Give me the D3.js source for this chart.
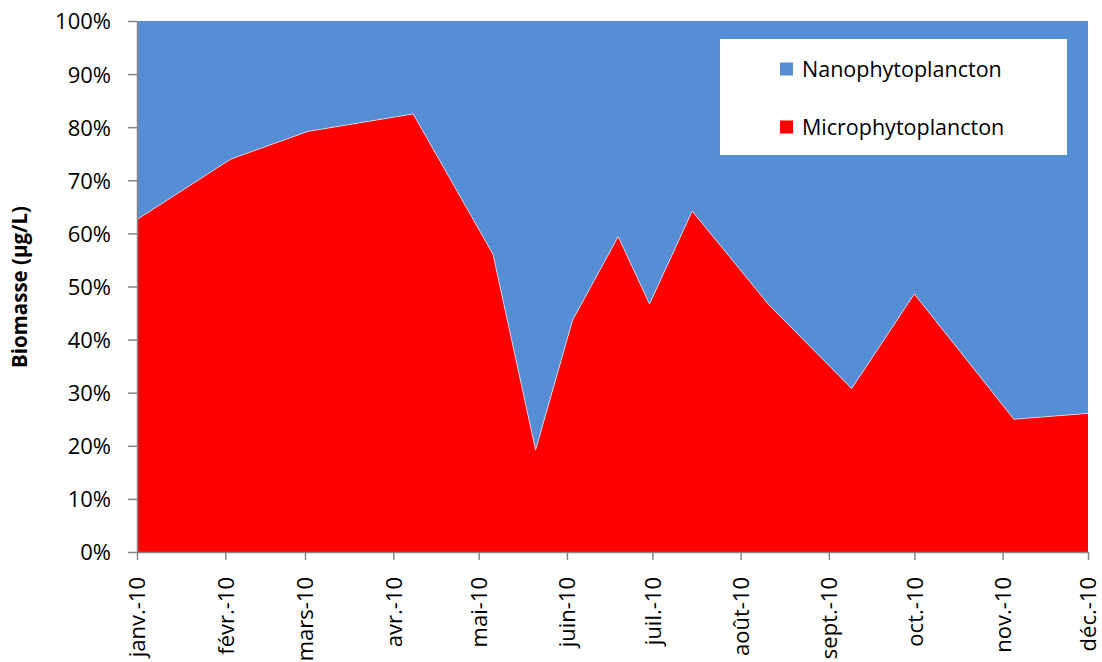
<!DOCTYPE html>
<html>
<head>
<meta charset="utf-8">
<script src="https://cdn.jsdelivr.net/npm/d3@7"></script>
<style>
  body { margin: 0; background: #fff; }
  svg { display: block; }
  text { font-family: "Open Sans", sans-serif; fill: #000; }
</style>
</head>
<body>
<svg id="chart" width="1102" height="662"></svg>
<script>
const dates = ["2010-01-01","2010-02-03","2010-03-02","2010-04-08","2010-05-06","2010-05-21","2010-06-03","2010-06-19","2010-06-30","2010-07-15","2010-08-11","2010-09-09","2010-10-01","2010-11-05","2010-12-01"];
const micro = [62.6, 74.0, 79.2, 82.5, 56.1, 19.2, 43.7, 59.4, 46.7, 64.2, 46.5, 30.8, 48.6, 25.0, 26.1];
const nano = micro.map(v => 100 - v);
const seriesNames = ["Microphytoplancton", "Nanophytoplancton"];
const seriesColors = ["#FF0000", "#558ED5"];
const monthLabels = ["janv.-10","févr.-10","mars-10","avr.-10","mai-10","juin-10","juil.-10","août-10","sept.-10","oct.-10","nov.-10","déc.-10"];
const yTicks = [0,10,20,30,40,50,60,70,80,90,100];
const yTitle = "Biomasse (µg/L)";

(function () {
const FONT = '"Open Sans", sans-serif';
const parse = d3.timeParse("%Y-%m-%d");
const rows = dates.map((d, i) => ({date: parse(d), Microphytoplancton: micro[i], Nanophytoplancton: nano[i]}));

const svg = d3.select("#chart");
const mLeft = 137, mRight = 1088, mTop = 21, mBottom = 552;

const x = d3.scaleTime().domain([parse("2010-01-01"), parse("2010-12-01")]).range([mLeft, mRight]);
const y = d3.scaleLinear().domain([0, 100]).range([mBottom, mTop]);

const layers = d3.stack().keys(seriesNames)(rows);

const area = d3.area()
  .x(d => x(d.data.date))
  .y0(d => y(d[0]))
  .y1(d => y(d[1]));

svg.append("g").selectAll("path")
  .data(layers)
  .join("path")
  .attr("d", area)
  .attr("fill", (d, i) => seriesColors[i]);

// thin white boundary between areas
svg.append("path")
  .datum(layers[0])
  .attr("d", d3.line().x(d => x(d.data.date)).y(d => y(d[1])))
  .attr("fill", "none")
  .attr("stroke", "#fff")
  .attr("stroke-opacity", 0.6)
  .attr("stroke-width", 1);

// Y axis
const yAxis = d3.axisLeft(y).tickValues(yTicks).tickFormat(d => d + "%").tickSize(9).tickSizeOuter(0);
const gy = svg.append("g").attr("transform", `translate(${mLeft},0)`).call(yAxis);
gy.attr("font-family", FONT);
gy.select(".domain").attr("stroke", "#868686").attr("stroke-width", 1.5);
gy.selectAll(".tick line").attr("stroke", "#868686").attr("stroke-width", 1.5);
gy.selectAll(".tick text").attr("font-size", 22).attr("x", -26).attr("dy", "0.36em")
  .style("font-family", FONT).attr("fill", "#000");

// X axis
const monthTicks = d3.timeMonth.range(parse("2010-01-01"), d3.timeDay.offset(parse("2010-12-01"), 1));
const xAxis = d3.axisBottom(x).tickValues(monthTicks).tickFormat((d, i) => monthLabels[i]).tickSize(8).tickSizeOuter(0);
const gx = svg.append("g").attr("transform", `translate(0,${mBottom})`).call(xAxis);
gx.attr("font-family", FONT);
gx.select(".domain").attr("stroke", "#868686").attr("stroke-width", 1.5);
gx.selectAll(".tick line").attr("stroke", "#868686").attr("stroke-width", 1.5);
gx.selectAll(".tick text")
  .attr("font-size", 22)
  .attr("text-anchor", "end")
  .attr("transform", "rotate(-90)")
  .attr("x", -25)
  .attr("y", 0)
  .attr("dy", "0.36em")
  .style("font-family", FONT)
  .attr("fill", "#000");

// Y title
svg.append("text")
  .attr("transform", "translate(27,287) rotate(-90)")
  .attr("text-anchor", "middle")
  .attr("font-size", 20.5)
  .attr("font-weight", "bold")
  .style("font-family", FONT)
  .text(yTitle);

// Legend
const lg = svg.append("g");
lg.append("rect").attr("x", 720).attr("y", 39).attr("width", 347).attr("height", 116).attr("fill", "#fff");
const legendItems = [
  {name: seriesNames[1], color: seriesColors[1], cy: 69},
  {name: seriesNames[0], color: seriesColors[0], cy: 127}
];
legendItems.forEach(it => {
  lg.append("rect").attr("x", 780).attr("y", it.cy - 6.5).attr("width", 13).attr("height", 13).attr("fill", it.color);
  lg.append("text").attr("x", 802).attr("y", it.cy).attr("dy", "0.36em").attr("font-size", 21.5)
    .style("font-family", FONT).text(it.name);
});
})();
</script>
</body>
</html>
